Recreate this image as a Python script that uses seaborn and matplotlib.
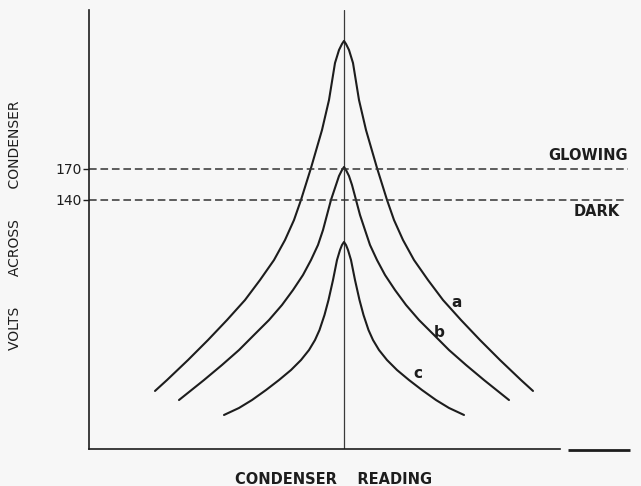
import matplotlib
matplotlib.use("Agg")
import matplotlib.pyplot as plt
import pandas as pd
import seaborn as sns

# Condenser dial reading (arbitrary units) and volts across the condenser
reading_a = [13.2, 15.6, 19.8, 23.8, 27.6, 31.2, 34.2, 37.0, 39.2, 41.0, 42.4, 44.4, 46.6, 48.0,
             49.2, 50.0, 50.6, 51.0, 51.4, 52.0, 52.8, 54.0, 55.4, 57.6, 59.6, 61.0, 62.8, 65.0,
             67.8, 70.8, 74.4, 78.2, 82.2, 86.4, 88.8]
volts_a = [-45.3, -34.7, -15.3, 4.1, 23.5, 42.9, 62.3, 81.7, 101.1, 120.5, 140.0, 171.0, 207.8,
           236.9, 272.8, 285.4, 291.3, 294.2, 291.3, 285.4, 272.8, 236.9, 207.8, 171.0, 140.0,
           120.5, 101.1, 81.7, 62.3, 42.9, 23.5, 4.1, -15.3, -34.7, -45.3]

reading_b = [18.0, 23.0, 26.6, 30.0, 33.0, 36.0, 38.6, 40.8, 42.8, 44.4, 45.8, 46.8, 47.6, 48.4,
             49.4, 50.0, 50.6, 51.0, 51.4, 52.0, 52.6, 53.4, 54.2, 55.2, 56.2, 57.6, 59.2, 61.2,
             63.4, 66.0, 69.0, 72.0, 75.4, 79.0, 84.0]
volts_b = [-54.1, -34.7, -20.1, -5.6, 9.0, 23.5, 38.1, 52.6, 67.2, 81.7, 96.3, 110.8, 125.4,
           140.0, 154.5, 163.2, 169.0, 171.9, 169.0, 163.2, 154.5, 140.0, 125.4, 110.8, 96.3,
           81.7, 67.2, 52.6, 38.1, 23.5, 9.0, -5.6, -20.1, -34.7, -54.1]

reading_c = [27.0, 30.0, 32.6, 35.4, 38.0, 40.4, 42.4, 44.0, 45.2, 46.1, 47.1, 47.9, 48.8, 49.6,
             50.2, 50.6, 51.0, 51.4, 51.8, 52.4, 53.2, 54.1, 54.9, 55.9, 56.8, 58.0, 59.6, 61.6,
             64.0, 66.6, 69.4, 72.0, 75.0]
volts_c = [-68.6, -61.8, -54.1, -44.4, -34.7, -25.0, -15.3, -5.6, 4.1, 13.8, 28.4, 42.9, 62.3,
           81.7, 91.4, 96.3, 99.2, 96.3, 91.4, 81.7, 62.3, 42.9, 28.4, 13.8, 4.1, -5.6, -15.3,
           -25.0, -34.7, -44.4, -54.1, -61.8, -68.6]

curve_names = ["a", "b", "c"]
resonance_reading = 51.0
glowing_volts = 170
dark_volts = 140
ytick_values = [140, 170]
ytick_labels = ["140", "170"]

ink = "#1d1d1d"
paper = "#f7f7f7"

sns.set_theme(style="white")
plt.rcParams["font.family"] = ["DejaVu Sans"]

frames = []
for name, xs, ys in zip(curve_names, [reading_a, reading_b, reading_c], [volts_a, volts_b, volts_c]):
    frames.append(pd.DataFrame({"reading": xs, "volts": ys, "curve": name}))
curves = pd.concat(frames, ignore_index=True)

fig = plt.figure(figsize=(6.41, 4.86), dpi=100, facecolor=paper)
ax = fig.add_axes([89 / 641, 37 / 486, 550 / 641, 439 / 486])
ax.set_facecolor(paper)

sns.lineplot(data=curves, x="reading", y="volts", hue="curve", estimator=None, sort=False,
             palette=[ink, ink, ink], linewidth=1.5, legend=False, ax=ax)

ax.set_xlim(0, 110)
ax.set_ylim(-101.6, 324.2)

# resonance line through the peaks
ax.axvline(resonance_reading, color="#3a3a3a", linewidth=0.9, zorder=1)

# glowing / dark threshold lines
ax.hlines(glowing_volts, 0, 107.8, colors="#333333", linewidth=1.1,
          linestyles=(0, (5, 2.5)), clip_on=False)
ax.hlines(dark_volts, 0, 107.2, colors="#333333", linewidth=1.1,
          linestyles=(0, (5, 2.5)), clip_on=False)

ax.text(99.8, 178.7, "GLOWING", ha="center", va="baseline", fontsize=10.5,
        fontweight="bold", color=ink)
ax.text(101.6, 124.4, "DARK", ha="center", va="baseline", fontsize=10.5,
        fontweight="bold", color=ink)

for name, x, y in zip(curve_names, [73.6, 70.0, 65.8], [36.6, 7.5, -32.7]):
    ax.text(x, y, name, ha="center", va="baseline", fontsize=11, fontweight="bold", color=ink)

# axes frame
for side in ["top", "right"]:
    ax.spines[side].set_visible(False)
for side in ["left", "bottom"]:
    ax.spines[side].set_color(ink)
    ax.spines[side].set_linewidth(1.2)
ax.spines["bottom"].set_bounds(0, 94.2)
ax.plot([95.8, 108.2], [-103.0, -103.0], color=ink, linewidth=2.0, clip_on=False,
        solid_capstyle="butt")

ax.set_xticks([])
ax.set_yticks(ytick_values)
ax.set_yticklabels(ytick_labels)
ax.tick_params(axis="y", left=True, length=4, width=1.0, direction="out", pad=1,
               labelsize=10, colors=ink)

ax.set_ylabel("VOLTS       ACROSS       CONDENSER", fontsize=10, color=ink)
ax.yaxis.set_label_coords(-0.122, 0.51)
ax.set_xlabel("CONDENSER    READING", fontsize=10.5, fontweight="bold", color=ink)
ax.xaxis.set_label_coords(0.445, -0.052)

fig.savefig("out.png", dpi=100, facecolor=paper)
